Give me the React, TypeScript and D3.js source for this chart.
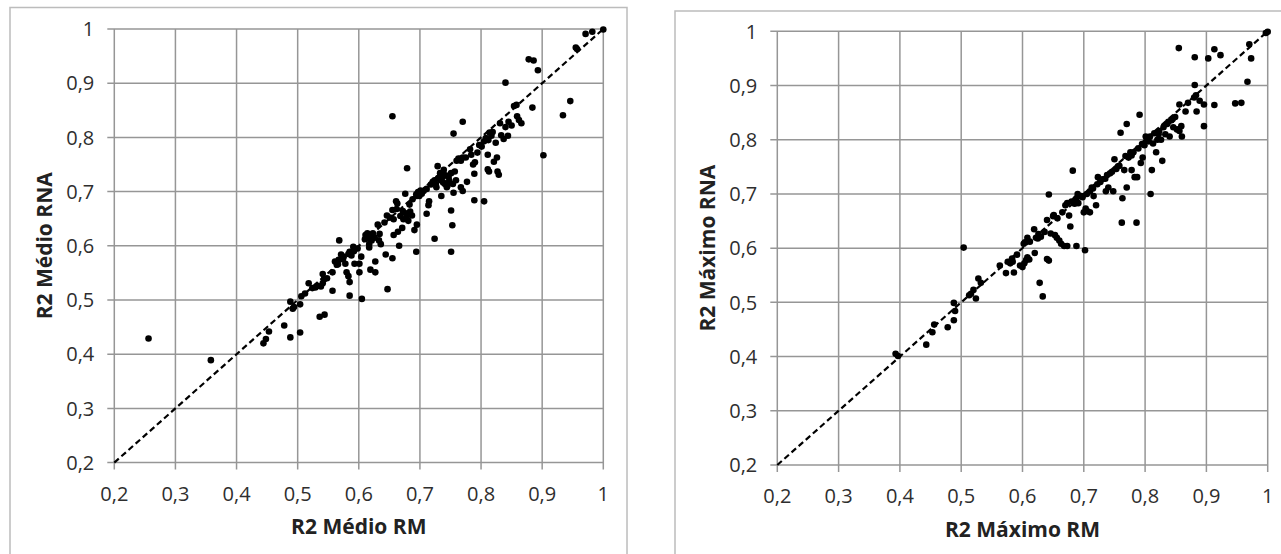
import * as d3 from "d3";

// eixo comum aos dois graficos
const tickValues = [0.2, 0.3, 0.4, 0.5, 0.6, 0.7, 0.8, 0.9, 1];

// R2 medio: RM (x) vs RNA (y)
const medioRM = [
  0.256, 0.358, 0.444, 0.448, 0.453, 0.478, 0.488, 0.488, 0.492, 0.494, 0.504, 0.506, 0.504, 0.518, 0.524, 0.529,
  0.536, 0.544, 0.538, 0.541, 0.543, 0.541, 0.557, 0.557, 0.561, 0.564, 0.567, 0.568, 0.571, 0.575, 0.578, 0.580,
  0.583, 0.585, 0.585, 0.583, 0.585, 0.588, 0.591, 0.593, 0.601, 0.601, 0.604, 0.605, 0.611, 0.614, 0.617, 0.619,
  0.617, 0.621, 0.623, 0.627, 0.627, 0.631, 0.633, 0.636, 0.644, 0.646, 0.647, 0.655, 0.657, 0.657, 0.655, 0.655,
  0.661, 0.663, 0.664, 0.666, 0.671, 0.673, 0.676, 0.677, 0.679, 0.681, 0.684, 0.687, 0.691, 0.679, 0.694, 0.695,
  0.697, 0.699, 0.701, 0.694, 0.695, 0.711, 0.711, 0.714, 0.715, 0.721, 0.724, 0.726, 0.727, 0.724, 0.729, 0.733,
  0.734, 0.735, 0.737, 0.739, 0.741, 0.742, 0.744, 0.747, 0.751, 0.754, 0.755, 0.751, 0.753, 0.751, 0.755, 0.757,
  0.759, 0.767, 0.770, 0.767, 0.770, 0.770, 0.777, 0.784, 0.787, 0.789, 0.789, 0.790, 0.794, 0.805, 0.801, 0.805,
  0.808, 0.811, 0.811, 0.813, 0.814, 0.817, 0.821, 0.824, 0.826, 0.827, 0.829, 0.831, 0.833, 0.837, 0.840, 0.840,
  0.844, 0.850, 0.854, 0.859, 0.862, 0.866, 0.878, 0.886, 0.893, 0.884, 0.902, 0.934, 0.946, 0.955, 0.957, 0.971,
  0.982, 1.0, 0.745, 0.748, 0.738, 0.730, 0.718, 0.706, 0.703, 0.688, 0.683, 0.672, 0.668, 0.662, 0.651, 0.642,
  0.634, 0.626, 0.618, 0.610, 0.598, 0.592, 0.574, 0.566, 0.548, 0.532, 0.512, 0.775, 0.782, 0.797, 0.819, 0.845,
  0.858, 0.812, 0.760, 0.763,
];
const medioRNA = [
  0.429, 0.389, 0.420, 0.428, 0.442, 0.453, 0.431, 0.497, 0.484, 0.487, 0.492, 0.507, 0.440, 0.531, 0.522, 0.523,
  0.469, 0.473, 0.525, 0.531, 0.538, 0.548, 0.517, 0.551, 0.571, 0.565, 0.574, 0.610, 0.584, 0.580, 0.567, 0.551,
  0.544, 0.533, 0.508, 0.585, 0.589, 0.582, 0.598, 0.567, 0.567, 0.551, 0.580, 0.502, 0.620, 0.623, 0.603, 0.556,
  0.597, 0.610, 0.623, 0.571, 0.551, 0.639, 0.610, 0.603, 0.584, 0.656, 0.520, 0.666, 0.649, 0.620, 0.577, 0.839,
  0.682, 0.678, 0.626, 0.600, 0.633, 0.649, 0.696, 0.660, 0.656, 0.646, 0.663, 0.656, 0.629, 0.743, 0.695, 0.692,
  0.699, 0.692, 0.702, 0.589, 0.639, 0.705, 0.659, 0.675, 0.682, 0.718, 0.721, 0.714, 0.708, 0.613, 0.747, 0.734,
  0.721, 0.692, 0.727, 0.740, 0.714, 0.730, 0.708, 0.727, 0.734, 0.714, 0.698, 0.665, 0.638, 0.589, 0.807, 0.737,
  0.721, 0.757, 0.763, 0.708, 0.701, 0.829, 0.718, 0.768, 0.750, 0.733, 0.684, 0.754, 0.772, 0.682, 0.783, 0.793,
  0.799, 0.768, 0.741, 0.737, 0.809, 0.803, 0.755, 0.790, 0.763, 0.737, 0.731, 0.826, 0.804, 0.797, 0.901, 0.819,
  0.803, 0.822, 0.858, 0.839, 0.832, 0.826, 0.944, 0.942, 0.924, 0.855, 0.767, 0.841, 0.867, 0.966, 0.963, 0.991,
  0.995, 0.999, 0.711, 0.720, 0.717, 0.725, 0.713, 0.701, 0.696, 0.686, 0.676, 0.664, 0.655, 0.668, 0.652, 0.643,
  0.622, 0.615, 0.614, 0.612, 0.595, 0.590, 0.575, 0.566, 0.540, 0.526, 0.512, 0.763, 0.778, 0.786, 0.810, 0.829,
  0.860, 0.795, 0.757, 0.761,
];

// R2 maximo: RM (x) vs RNA (y)
const maximoRM = [
  0.393, 0.397, 0.443, 0.453, 0.456, 0.478, 0.488, 0.490, 0.488, 0.504, 0.513, 0.516, 0.520, 0.524, 0.528, 0.532,
  0.563, 0.573, 0.576, 0.580, 0.584, 0.586, 0.596, 0.600, 0.603, 0.606, 0.602, 0.604, 0.608, 0.608, 0.611, 0.620,
  0.619, 0.622, 0.625, 0.630, 0.628, 0.633, 0.640, 0.643, 0.636, 0.640, 0.643, 0.646, 0.650, 0.651, 0.653, 0.656,
  0.660, 0.663, 0.668, 0.673, 0.670, 0.673, 0.676, 0.678, 0.680, 0.682, 0.686, 0.688, 0.690, 0.691, 0.688, 0.696,
  0.700, 0.703, 0.706, 0.710, 0.702, 0.710, 0.713, 0.716, 0.720, 0.722, 0.723, 0.727, 0.736, 0.740, 0.743, 0.746,
  0.748, 0.750, 0.753, 0.756, 0.760, 0.762, 0.763, 0.766, 0.770, 0.770, 0.773, 0.776, 0.778, 0.781, 0.783, 0.786,
  0.787, 0.789, 0.791, 0.793, 0.796, 0.799, 0.801, 0.803, 0.806, 0.808, 0.809, 0.811, 0.813, 0.818, 0.820, 0.822,
  0.823, 0.826, 0.828, 0.830, 0.833, 0.836, 0.840, 0.843, 0.846, 0.849, 0.852, 0.856, 0.859, 0.855, 0.856, 0.860,
  0.866, 0.870, 0.881, 0.881, 0.880, 0.883, 0.884, 0.889, 0.896, 0.896, 0.903, 0.913, 0.923, 0.913, 0.947, 0.957,
  0.967, 0.970, 0.973, 0.997, 1.0, 0.612, 0.626, 0.657, 0.665, 0.685, 0.698, 0.715, 0.730, 0.738, 0.758, 0.768,
  0.795, 0.815, 0.838, 0.845, 0.591, 0.583, 0.735, 0.705, 0.778,
];
const maximoRNA = [
  0.405, 0.401, 0.422, 0.445, 0.459, 0.454, 0.467, 0.484, 0.499, 0.601, 0.513, 0.516, 0.523, 0.507, 0.544, 0.536,
  0.568, 0.554, 0.575, 0.572, 0.575, 0.555, 0.568, 0.565, 0.572, 0.578, 0.608, 0.611, 0.619, 0.583, 0.579, 0.591,
  0.635, 0.619, 0.618, 0.621, 0.536, 0.511, 0.580, 0.577, 0.630, 0.652, 0.699, 0.627, 0.659, 0.661, 0.624, 0.619,
  0.614, 0.608, 0.604, 0.604, 0.679, 0.683, 0.660, 0.640, 0.686, 0.743, 0.689, 0.692, 0.700, 0.683, 0.604, 0.696,
  0.666, 0.673, 0.668, 0.666, 0.596, 0.705, 0.712, 0.696, 0.679, 0.718, 0.731, 0.722, 0.705, 0.712, 0.738, 0.741,
  0.705, 0.764, 0.746, 0.751, 0.813, 0.647, 0.692, 0.744, 0.829, 0.712, 0.767, 0.777, 0.744, 0.777, 0.731, 0.647,
  0.731, 0.784, 0.846, 0.757, 0.767, 0.790, 0.806, 0.800, 0.797, 0.806, 0.700, 0.744, 0.793, 0.777, 0.800, 0.810,
  0.816, 0.800, 0.761, 0.823, 0.810, 0.829, 0.806, 0.836, 0.823, 0.842, 0.819, 0.816, 0.825, 0.969, 0.865, 0.806,
  0.852, 0.868, 0.901, 0.952, 0.878, 0.882, 0.852, 0.872, 0.865, 0.825, 0.950, 0.967, 0.956, 0.864, 0.867, 0.868,
  0.907, 0.976, 0.950, 0.997, 0.999, 0.612, 0.626, 0.655, 0.666, 0.682, 0.694, 0.710, 0.727, 0.735, 0.752, 0.770,
  0.792, 0.812, 0.833, 0.838, 0.588, 0.581, 0.728, 0.700, 0.771,
];

const fmt = d3.formatLocale({ decimal: ",", thousands: ".", grouping: [3], currency: ["", ""] }).format("~g");

const FONT = "'Open Sans', 'Noto Sans', sans-serif";

type PanelProps = {
  frame: { x: number; y: number; w: number; h: number };
  plot: { left: number; right: number; top: number; bottom: number };
  xs: number[];
  ys: number[];
  xTitle: string;
  yTitle: string;
  yTitleX: number;
};

function Panel({ frame, plot, xs, ys, xTitle, yTitle, yTitleX }: PanelProps) {
  const x = d3.scaleLinear().domain([0.2, 1]).range([plot.left, plot.right]);
  const y = d3.scaleLinear().domain([0.2, 1]).range([plot.bottom, plot.top]);
  const diag = d3.line<number>().x((d) => x(d)).y((d) => y(d));
  const tick = 7;
  const midY = (plot.top + plot.bottom) / 2;
  const midX = (plot.left + plot.right) / 2;

  return (
    <g>
      <rect x={frame.x} y={frame.y} width={frame.w} height={frame.h} fill="#fff" stroke="#bcbcbc" strokeWidth={1.5} />
      {tickValues.map((t) => (
        <line key={"h" + t} x1={plot.left - tick} x2={plot.right} y1={y(t)} y2={y(t)} stroke="#969696" strokeWidth={1.5} />
      ))}
      {tickValues.map((t) => (
        <line key={"v" + t} x1={x(t)} x2={x(t)} y1={plot.top} y2={plot.bottom + tick} stroke="#969696" strokeWidth={1.5} />
      ))}
      {tickValues.map((t) => (
        <text key={"yl" + t} x={plot.left - 20} y={y(t)} dy="0.36em" textAnchor="end" fontSize={20} fill="#2e2e2e" fontFamily={FONT}>
          {fmt(t)}
        </text>
      ))}
      {tickValues.map((t) => (
        <text key={"xl" + t} x={x(t)} y={plot.bottom + 31} dy="0.36em" textAnchor="middle" fontSize={20} fill="#2e2e2e" fontFamily={FONT}>
          {fmt(t)}
        </text>
      ))}
      <path d={diag([0.2, 1]) || ""} fill="none" stroke="#000" strokeWidth={2.2} strokeDasharray="6,3.5" />
      {xs.map((v, i) => (
        <circle key={i} cx={x(v)} cy={y(ys[i])} r={3.3} fill="#000" />
      ))}
      <text x={midX} y={plot.bottom + 64} dy="0.36em" textAnchor="middle" fontSize={21} fontWeight="bold" fill="#222" fontFamily={FONT}>
        {xTitle}
      </text>
      <text
        transform={`translate(${yTitleX},${midY}) rotate(-90)`}
        dy="0.36em"
        textAnchor="middle"
        fontSize={21}
        fontWeight="bold"
        fill="#222"
        fontFamily={FONT}
      >
        {yTitle}
      </text>
    </g>
  );
}

export default function App() {
  return (
    <svg width={1281} height={554} style={{ position: "absolute", left: 0, top: 0, background: "#fff" }}>
      <rect x={0} y={0} width={1281} height={554} fill="#fff" />
      <Panel
        frame={{ x: 10, y: 7.5, w: 617, h: 570 }}
        plot={{ left: 114.3, right: 603.3, top: 29, bottom: 462.6 }}
        xs={medioRM}
        ys={medioRNA}
        xTitle="R2 Médio RM"
        yTitle="R2 Médio RNA"
        yTitleX={44}
      />
      <Panel
        frame={{ x: 675, y: 11, w: 630, h: 570 }}
        plot={{ left: 777.3, right: 1267.7, top: 31.3, bottom: 465 }}
        xs={maximoRM}
        ys={maximoRNA}
        xTitle="R2 Máximo RM"
        yTitle="R2 Máximo RNA"
        yTitleX={707}
      />
    </svg>
  );
}
